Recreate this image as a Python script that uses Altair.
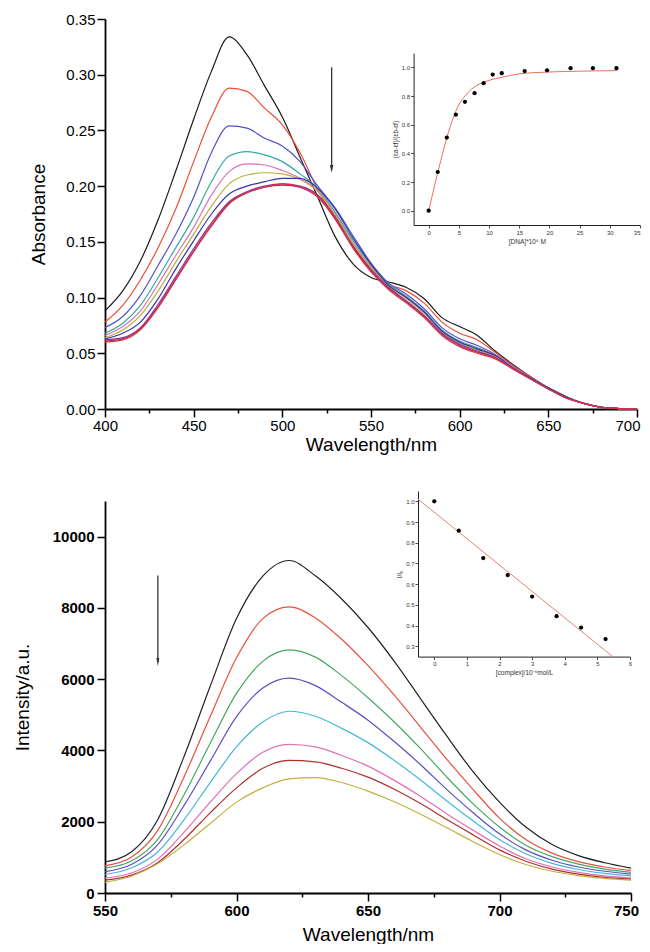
import altair as alt
import pandas as pd

# ---------------- top panel: absorption spectra ----------------
WL_ABS = list(range(400, 701, 10))
ABS_NAMES = ["a1", "a2", "a3", "a4", "a5", "a6", "a7", "a8", "a9", "a10"]
ABS_COLORS = ["#1a1a1a", "#e8503a", "#5252c6", "#33a9a0", "#e070b8",
              "#b8b040", "#3636a6", "#8e30a0", "#a83050", "#e03048"]
A1 = [.088, .106, .133, .170, .214, .260, .303, .334, .318, .290, .262, .226, .190, .154, .130, .118, .114, .109, .099, .082, .074, .066, .052, .040, .029, .019, .011, .005, .0015, .0004, 0]
A2 = [.078, .093, .116, .145, .180, .222, .262, .288, .285, .270, .255, .230, .197, .170, .146, .126, .112, .106, .095, .078, .068, .062, .051, .039, .029, .019, .011, .005, .0015, .0004, 0]
A3 = [.073, .083, .102, .129, .157, .190, .230, .254, .252, .243, .236, .222, .200, .180, .155, .131, .113, .103, .090, .073, .063, .057, .049, .038, .028, .019, .011, .005, .0015, .0004, 0]
A4 = [.068, .077, .093, .118, .145, .172, .204, .227, .231, .228, .222, .211, .198, .176, .151, .129, .112, .101, .088, .071, .061, .055, .048, .038, .028, .019, .011, .005, .0015, .0004, 0]
A5 = [.066, .074, .088, .112, .138, .163, .192, .213, .220, .219, .214, .207, .196, .175, .149, .128, .111, .100, .087, .070, .060, .054, .048, .038, .028, .019, .011, .005, .0015, .0004, 0]
A6 = [.064, .071, .084, .106, .132, .157, .182, .202, .210, .212, .211, .206, .195, .174, .148, .127, .110, .099, .086, .069, .059, .053, .047, .037, .028, .019, .011, .005, .0015, .0004, 0]
A7 = [.063, .068, .078, .099, .126, .151, .175, .193, .200, .204, .207, .207, .198, .179, .153, .130, .111, .100, .087, .070, .060, .054, .048, .037, .028, .019, .011, .005, .0015, .0004, 0]
A8 = [.062, .064, .073, .094, .119, .144, .167, .186, .195, .200, .202, .200, .192, .172, .146, .125, .109, .097, .084, .068, .058, .052, .046, .037, .027, .018, .010, .005, .0015, .0004, 0]
A9 = [.061, .063, .072, .092, .117, .142, .165, .185, .194, .199, .201, .199, .191, .171, .145, .124, .108, .096, .083, .067, .057, .051, .046, .036, .027, .018, .010, .005, .0015, .0004, 0]
A10 = [.060, .062, .071, .091, .116, .141, .164, .184, .194, .199, .202, .199, .190, .170, .144, .123, .107, .095, .082, .066, .056, .050, .045, .036, .027, .018, .010, .005, .0015, .0004, 0]
ABS_VALUES = [A1, A2, A3, A4, A5, A6, A7, A8, A9, A10]

# inset of top panel
DNA = [0, 1.5, 3, 4.5, 6, 7.6, 9.1, 10.6, 12.1, 15.9, 19.6, 23.5, 27.2, 31.1]
RATIO = [0.0, 0.27, 0.51, 0.67, 0.76, 0.82, 0.89, 0.95, 0.96, 0.975, 0.98, 0.995, 0.995, 0.995]
FIT_X = [0, 1, 2, 3, 4, 5, 6, 7, 8, 9, 10, 12, 15, 20, 25, 31.2]
FIT_Y = [0.0, 0.18, 0.35, 0.51, 0.64, 0.74, 0.80, 0.845, 0.875, 0.895, 0.91, 0.93, 0.955, 0.968, 0.974, 0.978]
ARROW_TOP = {"x": 527.8, "y": 0.3066, "y2": 0.2155}

# ---------------- bottom panel: emission spectra ----------------
WL_EM = list(range(550, 751, 10))
EM_NAMES = ["e1", "e2", "e3", "e4", "e5", "e6", "e7", "e8"]
EM_COLORS = ["#222222", "#e85040", "#45a862", "#5a50c0", "#45b8d8", "#e070b8", "#b03030", "#c0b040"]
B1 = [870, 1150, 2050, 3820, 5800, 7700, 8890, 9330, 8900, 8250, 7450, 6500, 5450, 4400, 3400, 2550, 1850, 1360, 1050, 850, 700]
B2 = [760, 1000, 1750, 3250, 4950, 6600, 7700, 8030, 7720, 7120, 6380, 5550, 4650, 3750, 2900, 2100, 1500, 1120, 880, 730, 630]
B3 = [700, 900, 1500, 2750, 4200, 5600, 6500, 6820, 6620, 6100, 5480, 4800, 4050, 3250, 2500, 1850, 1340, 1020, 810, 670, 580]
B4 = [600, 800, 1350, 2450, 3700, 4950, 5750, 6030, 5820, 5350, 4850, 4250, 3600, 2900, 2250, 1660, 1210, 920, 730, 610, 530]
B5 = [520, 700, 1150, 2050, 3100, 4100, 4800, 5100, 4960, 4620, 4220, 3720, 3170, 2580, 2020, 1500, 1100, 830, 660, 550, 480]
B6 = [420, 560, 950, 1700, 2550, 3350, 3950, 4170, 4100, 3860, 3560, 3160, 2710, 2220, 1760, 1320, 960, 730, 580, 480, 420]
B7 = [360, 500, 850, 1500, 2250, 2950, 3500, 3720, 3680, 3500, 3250, 2910, 2510, 2060, 1630, 1210, 890, 670, 530, 440, 390]
B8 = [300, 470, 820, 1350, 1950, 2550, 2950, 3200, 3240, 3100, 2860, 2560, 2210, 1830, 1440, 1080, 800, 610, 490, 410, 360]
EM_VALUES = [B1, B2, B3, B4, B5, B6, B7, B8]

# inset of bottom panel
CPX = [0, 0.75, 1.5, 2.25, 3.0, 3.75, 4.5, 5.25]
IRATIO = [1.0, 0.858, 0.726, 0.644, 0.54, 0.445, 0.39, 0.335]
LIN_X = [-0.5, 5.5]
LIN_Y = [1.011, 0.246]
ARROW_BOT = {"x": 570.1, "y": 8907, "y2": 6480}

FONT = "Liberation Sans"

abs_df = pd.DataFrame([
    {"wl": w, "A": v, "s": n, "k": i}
    for i, (n, vals) in enumerate(zip(ABS_NAMES, ABS_VALUES))
    for w, v in zip(WL_ABS, vals)
])
em_df = pd.DataFrame([
    {"wl": w, "I": v, "s": n, "k": i}
    for i, (n, vals) in enumerate(zip(EM_NAMES, EM_VALUES))
    for w, v in zip(WL_EM, vals)
])
dna_df = pd.DataFrame({"c": DNA, "r": RATIO})
fit_df = pd.DataFrame({"c": FIT_X, "r": FIT_Y})
cpx_df = pd.DataFrame({"c": CPX, "r": IRATIO})
lin_df = pd.DataFrame({"c": LIN_X, "r": LIN_Y})
arr_top_df = pd.DataFrame([ARROW_TOP])
arr_bot_df = pd.DataFrame([ARROW_BOT])


def main_axis(title, values, major_test, fmt=None, bold=False, title_pad=0, label_pad=1,
              end_value=None, end_align="center", end_offset=0):
    kw = dict(
        title=title, values=values,
        labelExpr=f"({major_test}) ? datum.label : ''",
        tickSize={"condition": {"test": major_test, "value": 8}, "value": 4},
        tickColor="black", tickWidth=1.5, domainColor="black", domainWidth=1.8,
        labelFont=FONT, labelFontSize=15, labelColor="black",
        labelFontWeight="bold" if bold else "normal",
        titleFont=FONT, titleFontSize=19, titleFontWeight="normal", titleColor="black",
        titlePadding=title_pad, labelPadding=label_pad, grid=False,
        labelOverlap=False, labelFlush=False,
    )
    if end_value is not None:
        kw["labelAlign"] = {"condition": {"test": f"datum.value === {end_value}", "value": end_align},
                            "value": "center"}
        kw["labelOffset"] = {"condition": {"test": f"datum.value === {end_value}", "value": end_offset},
                             "value": 0}
    if fmt:
        kw["format"] = fmt
    return alt.Axis(**kw)


def inset_axis(title, values, major_test, orient, offset, fmt=None, end_value=None):
    kw = dict(
        title=title, values=values, orient=orient, offset=offset,
        labelExpr=f"({major_test}) ? datum.label : ''",
        tickSize={"condition": {"test": major_test, "value": 3}, "value": 1.5},
        tickColor="#222", tickWidth=0.8, domainColor="#222", domainWidth=1,
        labelFont=FONT, labelFontSize=6, labelColor="#333", labelPadding=1,
        titleFont=FONT, titleFontSize=6.5, titleFontWeight="normal", titleColor="#333",
        titlePadding=3, grid=False, labelOverlap=False, labelFlush=False,
    )
    if end_value is not None:
        kw["labelAlign"] = {"condition": {"test": f"datum.value === {end_value}", "value": "right"},
                            "value": "center"}
    if fmt:
        kw["format"] = fmt
    return alt.Axis(**kw)


# ---------- top chart ----------
W1, H1 = 532, 390
xs_top = alt.Scale(domain=[400, 700], nice=False, zero=False)
ys_top = alt.Scale(domain=[0, 0.35], nice=False, zero=False)

top_lines = alt.Chart(abs_df).mark_line(strokeWidth=1.2, interpolate="monotone").encode(
    x=alt.X("wl:Q", scale=xs_top,
            axis=main_axis("Wavelength/nm", list(range(400, 701, 25)), "datum.value % 50 === 0",
                           title_pad=2, end_value=700, end_align="right", end_offset=3)),
    y=alt.Y("A:Q", scale=ys_top,
            axis=main_axis("Absorbance", [round(i * 0.025, 3) for i in range(15)],
                           "abs(datum.value*20 - round(datum.value*20)) < 0.001",
                           fmt=".2f", title_pad=17, label_pad=2)),
    color=alt.Color("s:N", scale=alt.Scale(domain=ABS_NAMES, range=ABS_COLORS), legend=None),
    order="k:Q",
)
top_arrow = alt.Chart(arr_top_df).mark_rule(color="#333", strokeWidth=1.3).encode(
    x="x:Q", y="y:Q", y2="y2:Q")
top_head = alt.Chart(arr_top_df).mark_point(
    shape="M -0.45 -1 L 0.45 -1 L 0 1 Z", filled=True, color="#333", size=60, opacity=1
).encode(x="x:Q", y="y2:Q")
top_main = alt.layer(top_lines, top_arrow, top_head)

xs_in1 = alt.Scale(domain=[-2.5, 35], range=[308.6, 535], nice=False, zero=False)
ys_in1 = alt.Scale(domain=[-0.1, 1.1], range=[206, 34.1], nice=False, zero=False)
in1_fit = alt.Chart(fit_df).mark_line(color="#e8705e", strokeWidth=1, interpolate="monotone").encode(
    x=alt.X("c:Q", scale=xs_in1,
            axis=inset_axis("[DNA]*10⁶ M", [i * 2.5 for i in range(15)], "datum.value % 5 === 0",
                            "bottom", 206 - H1, end_value=35)),
    y=alt.Y("r:Q", scale=ys_in1,
            axis=inset_axis("(εa-εf)/(εb-εf)", [round(i * 0.1, 2) for i in range(11)],
                            "abs(datum.value*5 - round(datum.value*5)) < 0.001",
                            "left", -308.6, fmt=".1f")),
)
in1_pts = alt.Chart(dna_df).mark_circle(size=18, color="black", opacity=1).encode(
    x=alt.X("c:Q", scale=xs_in1), y=alt.Y("r:Q", scale=ys_in1))
top_inset = alt.layer(in1_fit, in1_pts)

top = alt.layer(top_main, top_inset).resolve_scale(
    x="independent", y="independent").properties(width=W1, height=H1)

# ---------- bottom chart ----------
W2, H2 = 526, 392
xs_bot = alt.Scale(domain=[550, 750], nice=False, zero=False)
ys_bot = alt.Scale(domain=[0, 11000], nice=False, zero=False)

bot_lines = alt.Chart(em_df).mark_line(strokeWidth=1.2, interpolate="monotone").encode(
    x=alt.X("wl:Q", scale=xs_bot,
            axis=main_axis("Wavelength/nm", [550 + 25 * i for i in range(9)],
                           "datum.value % 50 === 0", bold=True, label_pad=2, title_pad=7,
                           end_value=750, end_align="center", end_offset=-5)),
    y=alt.Y("I:Q", scale=ys_bot,
            axis=main_axis("Intensity/a.u.", list(range(0, 10001, 1000)),
                           "datum.value % 2000 === 0", fmt="d", bold=True, title_pad=20, label_pad=3)),
    color=alt.Color("s:N", scale=alt.Scale(domain=EM_NAMES, range=EM_COLORS), legend=None),
    order="k:Q",
)
bot_arrow = alt.Chart(arr_bot_df).mark_rule(color="#333", strokeWidth=1.3).encode(
    x="x:Q", y="y:Q", y2="y2:Q")
bot_head = alt.Chart(arr_bot_df).mark_point(
    shape="M -0.35 -1 L 0.35 -1 L 0 1 Z", filled=True, color="#333", size=70, opacity=1
).encode(x="x:Q", y="y2:Q")
bot_main = alt.layer(bot_lines, bot_arrow, bot_head)

xs_in2 = alt.Scale(domain=[-0.5, 6], range=[313, 525], nice=False, zero=False)
ys_in2 = alt.Scale(domain=[0.25, 1.05], range=[155.6, -10], nice=False, zero=False)
in2_fit = alt.Chart(lin_df).mark_line(color="#e88070", strokeWidth=1).encode(
    x=alt.X("c:Q", scale=xs_in2,
            axis=inset_axis("[complex]/10⁻⁶mol/L", [i * 0.5 for i in range(13)], "datum.value % 1 === 0",
                            "bottom", 155.6 - H2, fmt="d")),
    y=alt.Y("r:Q", scale=ys_in2,
            axis=inset_axis("I/I₀", [round(0.3 + i * 0.05, 2) for i in range(15)],
                            "abs(datum.value*10 - round(datum.value*10)) < 0.001",
                            "left", -313, fmt=".1f")),
)
in2_pts = alt.Chart(cpx_df).mark_circle(size=18, color="black", opacity=1).encode(
    x=alt.X("c:Q", scale=xs_in2), y=alt.Y("r:Q", scale=ys_in2))
bot_inset = alt.layer(in2_fit, in2_pts)

bottom = alt.layer(bot_main, bot_inset).resolve_scale(
    x="independent", y="independent").properties(width=W2, height=H2)

chart = alt.vconcat(top, bottom, spacing=43).resolve_scale(color="independent").properties(
    padding={"left": 5, "top": 4, "right": 0, "bottom": 0},
    background="white",
).configure_view(stroke=None)

chart.save("out.html", embed_options={"renderer": "svg", "actions": False})
